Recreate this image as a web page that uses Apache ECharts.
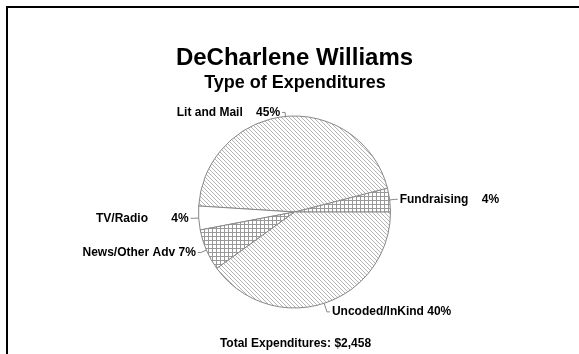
<!DOCTYPE html>
<html>
<head>
<meta charset="utf-8">
<script src="https://cdn.jsdelivr.net/npm/echarts@6/dist/echarts.min.js"></script>
<style>
html,body{margin:0;padding:0;background:#fff;}
#c{width:579px;height:354px;}
</style>
</head>
<body>
<div id="c"></div>
<script>
// Data
var categories = ['Fundraising', 'Lit and Mail', 'TV/Radio', 'News/Other Adv', 'Uncoded/InKind'];
var percents = [4, 45, 4, 7, 40];
var labelTexts = ['Fundraising    4%', 'Lit and Mail    45%', 'TV/Radio       4%', 'News/Other Adv 7%', 'Uncoded/InKind 40%'];
var titleText = 'DeCharlene Williams';
var subtitleText = 'Type of Expenditures';
var footerText = 'Total Expenditures: $2,458';

function makeHatch() {
  var c = document.createElement('canvas');
  c.width = 4; c.height = 4;
  var g = c.getContext('2d');
  g.fillStyle = '#ffffff'; g.fillRect(0, 0, 4, 4);
  g.fillStyle = '#b4b4b4';
  for (var i = 0; i < 4; i++) g.fillRect(i, i, 1, 1);
  return c;
}
function makeCross() {
  var c = document.createElement('canvas');
  c.width = 4; c.height = 4;
  var g = c.getContext('2d');
  g.fillStyle = '#ffffff'; g.fillRect(0, 0, 4, 4);
  g.fillStyle = '#999999';
  g.fillRect(0, 0, 4, 1);
  g.fillRect(0, 0, 1, 4);
  return c;
}
var hatch = { image: makeHatch(), repeat: 'repeat' };
var cross = { image: makeCross(), repeat: 'repeat' };
var fills = [cross, hatch, '#ffffff', cross, hatch];
var lineLengths = [5, 4, 5, 6, 9];

var chart = echarts.init(document.getElementById('c'), null, { renderer: 'canvas' });
var font = '"Liberation Sans", Arial, sans-serif';

var data = categories.map(function (n, i) {
  return { name: n, value: percents[i], itemStyle: { color: fills[i] }, labelLine: { length: lineLengths[i] } };
});

chart.setOption({
  animation: false,
  backgroundColor: '#ffffff',
  graphic: [
    { type: 'rect', shape: { x: 7, y: 7, width: 700, height: 500 }, style: { fill: 'none', stroke: '#000', lineWidth: 2 }, silent: true },
    { type: 'text', x: 294.5, y: 58, style: { text: titleText, font: 'bold 24px ' + font, fill: '#000', textAlign: 'center', textVerticalAlign: 'middle' } },
    { type: 'text', x: 295, y: 83, style: { text: subtitleText, font: 'bold 18px ' + font, fill: '#000', textAlign: 'center', textVerticalAlign: 'middle' } },
    { type: 'text', x: 295.5, y: 344, style: { text: footerText, font: 'bold 12px ' + font, fill: '#000', textAlign: 'center', textVerticalAlign: 'middle' } }
  ],
  series: [{
    type: 'pie',
    center: [294.5, 212],
    radius: 96,
    startAngle: 0,
    clockwise: false,
    data: data,
    avoidLabelOverlap: false,
    itemStyle: { borderColor: '#888', borderWidth: 1 },
    emphasis: { disabled: true },
    label: {
      show: true,
      position: 'outside',
      formatter: function (p) { return labelTexts[p.dataIndex]; },
      color: '#000',
      fontFamily: font,
      fontWeight: 'bold',
      fontSize: 12,
      distanceToLabelLine: 2
    },
    labelLine: { show: true, length: 5, length2: 3, lineStyle: { color: '#888', width: 1 } }
  }]
});
</script>
</body>
</html>
